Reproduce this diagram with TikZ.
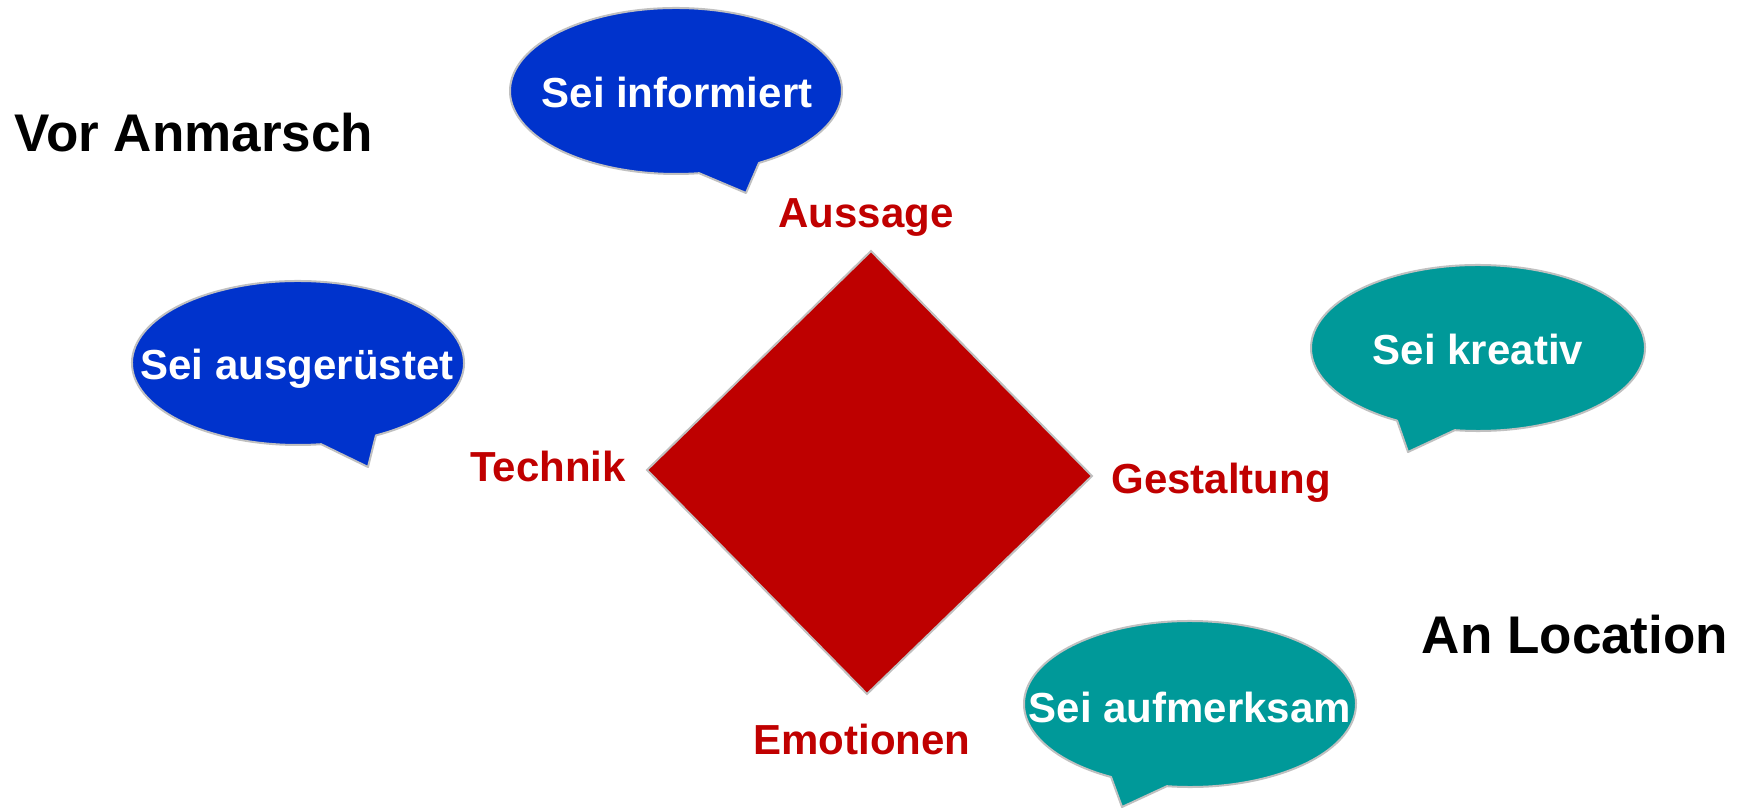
\documentclass[tikz,border=0pt]{standalone}
\usepackage{fontspec}
\setmainfont{Liberation Sans}
\definecolor{bblue}{HTML}{0033CC}
\definecolor{bteal}{HTML}{009999}
\definecolor{dred}{HTML}{BE0000}
\definecolor{lred}{HTML}{C00000}
\definecolor{edge}{HTML}{C0C0C0}
\tikzset{
  bubblefill/.style={draw=edge, line width=2pt, line join=round},
  bubbletext/.style={anchor=base, inner sep=0pt, text=white, font=\fontsize{42}{48}\selectfont\bfseries},
  redlabel/.style={anchor=base, inner sep=0pt, text=lred, font=\fontsize{42}{48}\selectfont\bfseries},
  heading/.style={anchor=base, inner sep=0pt, text=black, font=\fontsize{53}{60}\selectfont\bfseries},
}
% \mybubble{cx}{cy}{rx}{ry}{t_left}{t_right}{tipx}{tipy}{colour}
\newcommand{\mybubble}[9]{%
  \filldraw[bubblefill, fill=#9] (#1,#2) ++(#6:#3pt and #4pt)
    arc[start angle=#6, end angle=#5+360, x radius=#3pt, y radius=#4pt]
    -- (#7,#8) -- cycle;}
\begin{document}
\begin{tikzpicture}[x=1pt,y=1pt]
\useasboundingbox (0,0) rectangle (1748,809);
% diamond
\filldraw[draw=edge, line width=2pt, fill=dred, line join=miter]
  (871,558) coordinate (dtop) -- (1092,333) coordinate (dright)
  -- (867,115) coordinate (dbottom) -- (647,339) coordinate (dleft) -- cycle;
% bubbles
\mybubble{676}{718}{166}{83}{278}{300}{746}{616}{bblue}
\mybubble{298}{446}{166}{82}{278}{298}{368}{342}{bblue}
\mybubble{1478}{461}{167}{83}{241}{262}{1408}{357}{bteal}
\mybubble{1190}{105}{166}{83}{241.6}{262}{1122}{2}{bteal}
% bubble texts
\node[bubbletext] (informiert) at (677,701) {Sei informiert};
\node[bubbletext] (ausgeruestet) at (297,429) {Sei ausgerüstet};
\node[bubbletext] (kreativ) at (1478,444) {Sei kreativ};
\node[bubbletext] (aufmerksam) at (1190,87) {Sei aufmerksam};
% red labels
\node[redlabel] (aussage) at (866,581) {Aussage};
\node[redlabel] (technik) at (548,327) {Technik};
\node[redlabel] (gestaltung) at (1221,315) {Gestaltung};
\node[redlabel] (emotionen) at (862,55) {Emotionen};
% headings
\node[heading] (vor) at (194,657) {Vor Anmarsch};
\node[heading] (an) at (1575,156) {An Location};
\end{tikzpicture}
\end{document}
